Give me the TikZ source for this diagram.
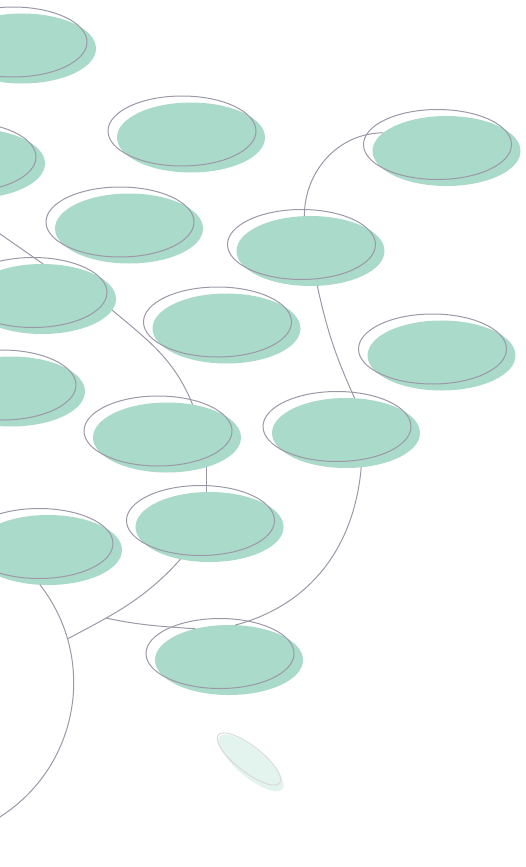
\documentclass[tikz,border=0pt]{standalone}
\usepackage{tikz}
\usetikzlibrary{shapes.geometric,calc}

\definecolor{mint}{RGB}{170,218,201}
\definecolor{ringgray}{RGB}{156,152,168}
\definecolor{mintpale}{RGB}{227,243,238}
\definecolor{ringpale}{RGB}{218,218,222}

\begin{document}
\begin{tikzpicture}[x=1pt, y=-1pt,
  blob/.style={ellipse, fill=mint, minimum width=148pt, minimum height=70pt, inner sep=0pt, outer sep=0pt},
  ring/.style={ellipse, draw=ringgray, line width=1pt, minimum width=148pt, minimum height=70pt, inner sep=0pt},
  link/.style={draw=ringgray, line width=1pt}]
  \clip (0,0) rectangle (525,867);
  % filled blobs, shifted down-right of their rings
  \foreach \n/\x/\y in {a/13/42, b/-38/157, c/182/131, d/437.5/144.5, e/120/222,
      f/301.5/244.5, g/33/292.5, h/217.5/322, i/432.5/349, j/2/385,
      k/158/431, l/337/426.5, m/200.5/520.5, n/39/543.5, o/220/653.5}
    \node[blob] (\n) at (\x+9,\y+6.5) {};
  \node[blob, minimum width=82pt, minimum height=28pt, fill=mintpale, rotate=-40] (p) at (251,763) {};

  % links
  \coordinate (gin) at (-40,206);
  \draw[link] (d.164) to[out=180,in=90] (f.100);
  \draw[link] (f.281) to[bend right=6] (l.76);
  \draw[link] (l.294) to[out=265,in=15] (o.80);
  \draw[link] (gin) -- (g.88);
  \draw[link] (g.351) to[out=-40,in=112] (k.52);
  \draw[link] (k.323) -- (k.323 |- m.north);
  \path (n.257) ++(218:159pt) coordinate (hc);
  \draw[link] (n.257) arc[start angle=38, end angle=-78, radius=159pt];
  \draw[link] (m.228) to[out=228,in=28] coordinate[pos=0.7] (gj) ($(hc)+(16:159pt)$);
  \draw[link] (gj) to[out=-12,in=176] (o.137);

  % rings
  \foreach \n/\x/\y in {a/13/42, b/-38/157, c/182/131, d/437.5/144.5, e/120/222,
      f/301.5/244.5, g/33/292.5, h/217.5/322, i/432.5/349, j/2/385,
      k/158/431, l/337/426.5, m/200.5/520.5, n/39/543.5, o/220/653.5}
    \node[ring] (\n-r) at (\x,\y) {};
  \node[ring, minimum width=78pt, minimum height=26pt, draw=ringpale, rotate=-38] (p-r) at (249,759) {};
\end{tikzpicture}
\end{document}
